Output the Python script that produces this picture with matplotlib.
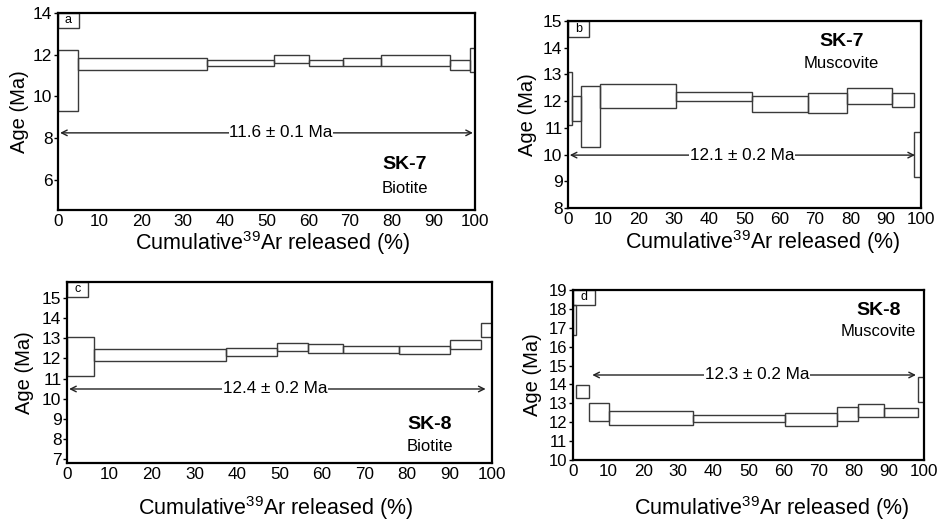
import matplotlib.pyplot as plt

plt.rcParams['font.family'] = ['Liberation Sans', 'DejaVu Sans']
plt.rcParams['mathtext.fontset'] = 'custom'
plt.rcParams['mathtext.rm'] = 'Liberation Sans'
plt.rcParams['mathtext.it'] = 'Liberation Sans:italic'
plt.rcParams['mathtext.bf'] = 'Liberation Sans:bold'

# step edges (cumulative 39Ar %) and age ranges (Ma) for each sample
a_edges = [0, 4.9, 35.8, 51.8, 60.3, 68.3, 77.4, 94.0, 98.8, 100]
a_lo = [9.28, 11.28, 11.44, 11.6, 11.44, 11.44, 11.48, 11.25, 11.15]
a_hi = [12.22, 11.85, 11.76, 11.98, 11.74, 11.85, 11.98, 11.75, 12.32]

b_edges = [0, 1.1, 3.7, 9.0, 30.7, 52.2, 67.9, 79.0, 91.9, 98.1, 100]
b_lo = [11.1, 11.25, 10.3, 11.75, 11.99, 11.61, 11.54, 11.88, 11.78, 9.16]
b_hi = [13.08, 12.19, 12.55, 12.65, 12.35, 12.2, 12.29, 12.48, 12.3, 10.85]

c_edges = [0, 6.4, 37.4, 49.3, 56.8, 64.9, 78.0, 90.2, 97.5, 100]
c_lo = [11.13, 11.87, 12.12, 12.37, 12.28, 12.28, 12.2, 12.45, 13.08]
c_hi = [13.05, 12.45, 12.53, 12.78, 12.7, 12.6, 12.6, 12.9, 13.78]

d_edges = [0, 0.9, 4.7, 10.2, 34.3, 60.4, 75.2, 81.3, 88.6, 98.3, 100]
d_lo = [16.6, 13.3, 12.06, 11.83, 12.03, 11.8, 12.06, 12.3, 12.28, 13.09]
d_hi = [18.2, 13.95, 13.03, 12.6, 12.4, 12.47, 12.8, 12.96, 12.77, 14.41]

# plateau ages: label, arrow y, arrow x-range, text x
plateaus = {
    'a': ('11.6 ± 0.1 Ma', 8.25, (0.5, 99.5), 53.5),
    'b': ('12.1 ± 0.2 Ma', 9.98, (0.5, 98.3), 49.3),
    'c': ('12.4 ± 0.2 Ma', 10.48, (0.5, 98.5), 49.0),
    'd': ('12.3 ± 0.2 Ma', 14.5, (5.5, 97.7), 52.4),
}
samples = {'a': ('SK-7', 'Biotite'), 'b': ('SK-7', 'Muscovite'),
           'c': ('SK-8', 'Biotite'), 'd': ('SK-8', 'Muscovite')}

W, H = 943, 521
fig = plt.figure(figsize=(W / 100, H / 100), dpi=100)


def px_axes(l, r, t, b):
    return fig.add_axes([l / W, 1 - b / H, (r - l) / W, (b - t) / H])


panels = {
    'a': dict(box=(58, 475, 13, 210), data=(a_edges, a_lo, a_hi),
              ylim=(4.55, 14), yticks=[6, 8, 10, 12, 14],
              ylab=-0.07, xlab=(0.515, -0.098), lbox=(0.05, 0.076),
              name=(0.777, 0.23, 0.11, 'left')),
    'b': dict(box=(568, 921, 21, 208), data=(b_edges, b_lo, b_hi),
              ylim=(8, 15), yticks=list(range(8, 16)),
              ylab=-0.088, xlab=(0.55, -0.11), lbox=(0.06, 0.084),
              name=(0.775, 0.89, 0.775, 'center')),
    'c': dict(box=(67, 492, 282, 463), data=(c_edges, c_lo, c_hi),
              ylim=(6.8, 15.8), yticks=list(range(7, 16)),
              ylab=-0.078, xlab=(0.49, -0.172), lbox=(0.05, 0.081),
              name=(0.80, 0.21, 0.09, 'left')),
    'd': dict(box=(573, 924, 290, 460), data=(d_edges, d_lo, d_hi),
              ylim=(10, 19), yticks=list(range(10, 20)),
              ylab=-0.088, xlab=(0.565, -0.2), lbox=(0.063, 0.088),
              name=(0.87, 0.88, 0.755, 'center')),
}

for key, p in panels.items():
    ax = px_axes(*p['box'])
    edges, lo, hi = p['data']
    lefts = edges[:-1]
    widths = [edges[i + 1] - edges[i] for i in range(len(lefts))]
    heights = [h - l for h, l in zip(hi, lo)]
    ax.bar(lefts, heights, width=widths, bottom=lo, align='edge',
           fill=False, edgecolor='#3a3a3a', linewidth=1.0)

    ax.set_xlim(0, 100)
    ax.set_ylim(*p['ylim'])
    ax.set_xticks(range(0, 101, 10))
    ax.set_yticks(p['yticks'])
    ax.tick_params(axis='x', length=0, pad=3, labelsize=12.3)
    ax.tick_params(axis='y', length=3, width=1, pad=1,
                   labelsize=12.5 if key != 'd' else 12)
    for s in ax.spines.values():
        s.set_linewidth(1.6)

    ax.set_xlabel('Cumulative$^{39}$Ar released (%)', fontsize=15.5)
    ax.xaxis.set_label_coords(*p['xlab'])
    ax.set_ylabel('Age (Ma)', fontsize=14.5)
    ax.yaxis.set_label_coords(p['ylab'], 0.5)

    # panel letter box
    lw_, lh_ = p['lbox']
    ax.add_patch(plt.Rectangle((0, 1 - lh_), lw_, lh_, transform=ax.transAxes,
                               fill=False, edgecolor='#3a3a3a', linewidth=1.0,
                               clip_on=False))
    ax.text(lw_ / 2, 1 - lh_ / 2, key, transform=ax.transAxes,
            ha='center', va='center', fontsize=9)

    # plateau arrow
    txt, ya, (x0, x1), xt = plateaus[key]
    ax.annotate('', xy=(x0, ya), xytext=(x1, ya),
                arrowprops=dict(arrowstyle='<->', color='#222', lw=1.0,
                                shrinkA=0, shrinkB=0))
    ax.text(xt, ya, txt, ha='center', va='center', fontsize=12.3,
            bbox=dict(facecolor='white', edgecolor='none', pad=0.5))

    # sample name
    nx, ny1, ny2, ha = p['name']
    code, mineral = samples[key]
    ax.text(nx, ny1, code, transform=ax.transAxes, ha=ha, va='center',
            fontsize=14, fontweight='bold')
    ax.text(nx, ny2, mineral, transform=ax.transAxes, ha=ha, va='center',
            fontsize=12)

fig.savefig('out.png', dpi=100)
